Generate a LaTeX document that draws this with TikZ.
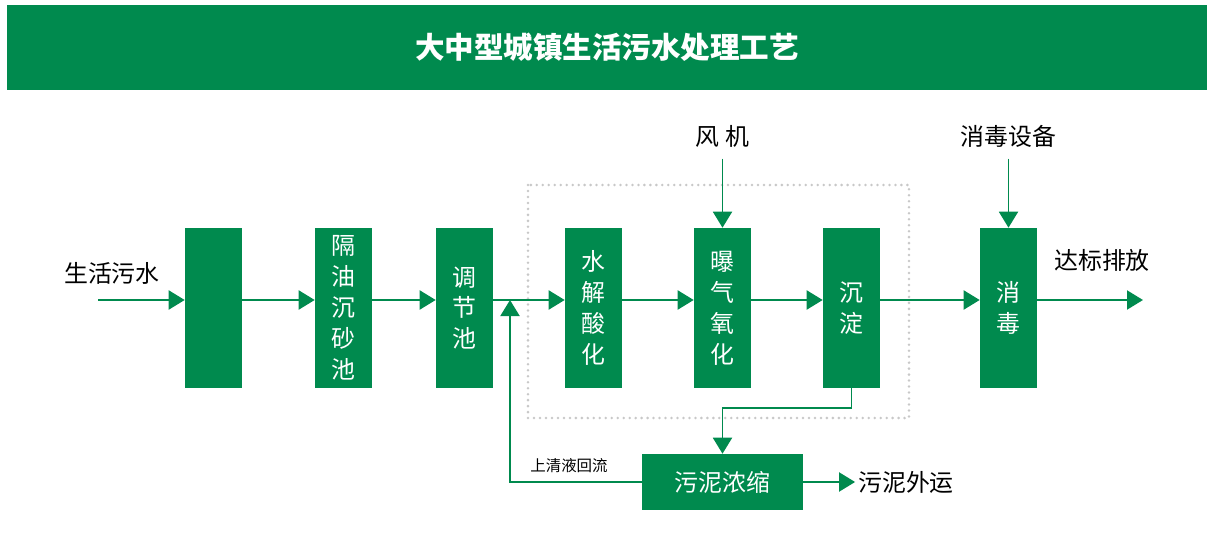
\documentclass[tikz,border=0pt]{standalone}
\usepackage{fontspec}
\setmainfont{Noto Sans CJK SC}
\usepackage{tikz}
\usetikzlibrary{arrows.meta,positioning}

\definecolor{plantgreen}{RGB}{0,138,78}
\definecolor{dotgray}{RGB}{200,200,200}

\tikzset{
    unit/.style={fill=plantgreen, text=white, inner sep=0pt, align=center,
        minimum width=1.425cm, minimum height=4cm,
        font=\fontsize{17pt}{22pt}\selectfont},
    lbl/.style={font=\fontsize{17pt}{20pt}\selectfont, inner sep=2pt},
    flow/.style={color=plantgreen, line width=1.4pt,
        -{Triangle[length=0.4cm,width=0.475cm]}},
    dotbox/.style={draw=dotgray, line width=2pt, line cap=round,
        dash pattern=on 0pt off 4.25pt}
}

\begin{document}
\begin{tikzpicture}[x=0.025cm, y=-0.025cm]
    \useasboundingbox (0,0) rectangle (1213,559);

    \node[fill=plantgreen, text=white, minimum width=30cm, minimum height=2.125cm,
        font=\fontsize{21pt}{24pt}\selectfont\bfseries] (title) at (607,47.5) {大中型城镇生活污水处理工艺};

    % treatment units
    \node[unit] (screen) at (213.5,308) {};
    \node[unit] (grit)   at (343.5,308) {隔\\油\\沉\\砂\\池};
    \node[unit] (equal)  at (464.5,308) {调\\节\\池};
    \node[unit] (hydro)  at (593.5,308) {水\\解\\酸\\化};
    \node[unit] (aer)    at (722.5,308) {曝\\气\\氧\\化};
    \node[unit] (settle) at (851.5,308) {沉\\淀};
    \node[unit] (disinf) at (1008.5,308) {消\\毒};
    \node[fill=plantgreen, text=white, minimum width=4.025cm, minimum height=1.4cm,
        font=\fontsize{17pt}{20pt}\selectfont] (sludge) at (722.5,482) {污泥浓缩};

    \draw[dotbox] (528,185) rectangle (909,418);

    % labels
    \node[lbl] (sewage) at (112,273) {生活污水};
    \node[lbl] (fan)    at (722.5,136) {风 机};
    \node[lbl] (dosing) at (1008.5,136) {消毒设备};
    \node[lbl] (dis)    at (1102,260) {达标排放};
    \node[lbl] (haul)   at (906,482) {污泥外运};
    \node[font=\fontsize{11pt}{13pt}\selectfont] (back) at (569,466) {上清液回流};

    \coordinate (line) at (0,300);
    \coordinate (in)   at (98,300);
    \coordinate (out)  at (1143,300);
    \coordinate (ret)  at (510,300);

    \path[flow]
        (in) edge (screen.west |- line)
        (screen.east |- line) edge (grit.west |- line)
        (grit.east |- line) edge (equal.west |- line)
        (equal.east |- line) edge (hydro.west |- line)
        (hydro.east |- line) edge (aer.west |- line)
        (aer.east |- line) edge (settle.west |- line)
        (settle.east |- line) edge (disinf.west |- line)
        (disinf.east |- line) edge (out)
        (fan) edge[shorten <=6pt] (aer)
        (dosing) edge[shorten <=6pt] (disinf)
        (sludge) edge (haul)
    ;
    \draw[flow] (settle.south) -- ++(0,20) -| (sludge.north);
    \draw[flow] (sludge.west) -| (ret);
\end{tikzpicture}
\end{document}
